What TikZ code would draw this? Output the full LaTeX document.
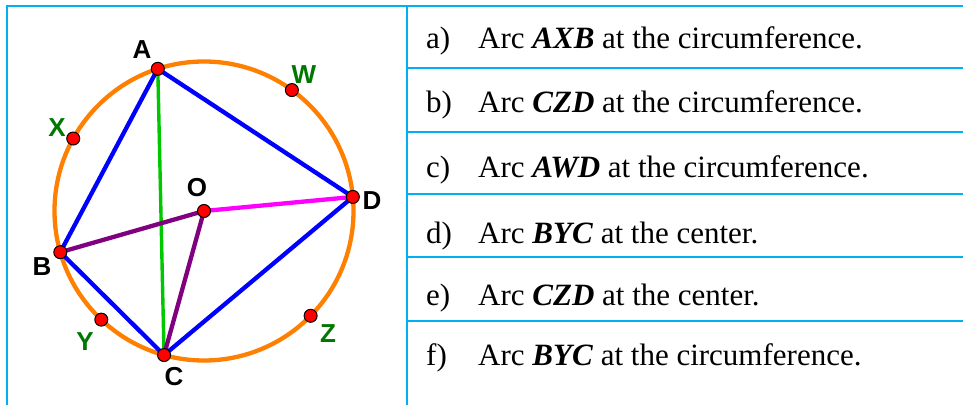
\documentclass[tikz,border=0pt]{standalone}
\usepackage{fontspec}
\setmainfont{Liberation Serif}
\newfontfamily\lblfont{Liberation Sans}
\definecolor{tblcyan}{RGB}{0,176,240}
\definecolor{circorange}{RGB}{255,128,0}
\definecolor{segblue}{RGB}{0,0,255}
\definecolor{seggreen}{RGB}{0,200,0}
\definecolor{segpurple}{RGB}{128,0,128}
\definecolor{segmagenta}{RGB}{255,0,255}
\definecolor{lblgreen}{RGB}{0,120,0}
\tikzset{
  tbl/.style={draw=tblcyan, line width=2.4pt},
  seg/.style={line width=4.3pt},
  dot/.style={circle, fill=red, draw=black, line width=1pt, inner sep=0pt, minimum size=13pt},
  lbl/.style={font=\lblfont\bfseries\fontsize{26}{30}\selectfont, text=black, inner sep=0pt},
  glbl/.style={lbl, text=lblgreen},
  rowtxt/.style={anchor=base west, font=\fontsize{31}{36}\selectfont, inner sep=0pt},
}
\begin{document}
\begin{tikzpicture}[x=1pt,y=1pt]
\useasboundingbox (0,0) rectangle (963,405);
\fill[white] (0,0) rectangle (963,405);
% table
\draw[tbl] (7,0) -- (7,399) -- (963,399);
\draw[tbl] (407,0) -- (407,399);
\foreach \yy in {337,273,211,148,84} \draw[tbl] (407,\yy) -- (963,\yy);
% circle
\coordinate (O0) at (204,194);
\draw[circorange, line width=4.3pt] (O0) circle (149.5);
% points
\path (O0) ++(108:149.5) coordinate (A);
\path (O0) ++(54:149.5) coordinate (W);
\path (O0) ++(151:149.5) coordinate (X);
\path (O0) ++(5.4:149.5) coordinate (D);
\path (O0) ++(196:149.5) coordinate (B);
\path (O0) ++(226.6:149.5) coordinate (Y);
\path (O0) ++(254.5:149.5) coordinate (C);
\path (O0) ++(315.5:149.5) coordinate (Z);
\coordinate (O) at (O0);
% segments
\draw[seg, seggreen, line width=3.4pt] (A) -- (C);
\draw[seg, segblue] (A) -- (B);
\draw[seg, segblue] (A) -- (D);
\draw[seg, segblue] (B) -- (C);
\draw[seg, segblue] (C) -- (D);
\draw[seg, segpurple] (O) -- (B);
\draw[seg, segpurple] (O) -- (C);
\draw[seg, segmagenta] (O) -- (D);
% dots
\foreach \p in {A,W,X,D,B,Y,C,Z,O} \node[dot] (dot\p) at (\p) {};
% labels
\node[lbl] (lA) at (142,355) {A};
\node[lbl] (lO) at (197,217) {O};
\node[lbl] (lD) at (372,204) {D};
\node[lbl] (lB) at (42,138) {B};
\node[lbl] (lC) at (174,28) {C};
\node[glbl] (lW) at (304,330) {W};
\node[glbl] (lX) at (57,277) {X};
\node[glbl] (lY) at (85,63) {Y};
\node[glbl] (lZ) at (328,71) {Z};
% table text
\node[rowtxt] (ka) at (426,356) {a)};
\node[rowtxt] (ta) at (478,356) {Arc \textbf{\textit{AXB}} at the circumference.};
\node[rowtxt] (kb) at (426,292) {b)};
\node[rowtxt] (tb) at (478,292) {Arc \textbf{\textit{CZD}} at the circumference.};
\node[rowtxt] (kc) at (426,228) {c)};
\node[rowtxt] (tc) at (478,228) {Arc \textbf{\textit{AWD}} at the circumference.};
\node[rowtxt] (kd) at (426,162) {d)};
\node[rowtxt] (td) at (478,162) {Arc \textbf{\textit{BYC}} at the center.};
\node[rowtxt] (ke) at (426,100) {e)};
\node[rowtxt] (te) at (478,100) {Arc \textbf{\textit{CZD}} at the center.};
\node[rowtxt] (kf) at (426,40) {f)};
\node[rowtxt] (tf) at (478,40) {Arc \textbf{\textit{BYC}} at the circumference.};
\end{tikzpicture}
\end{document}
